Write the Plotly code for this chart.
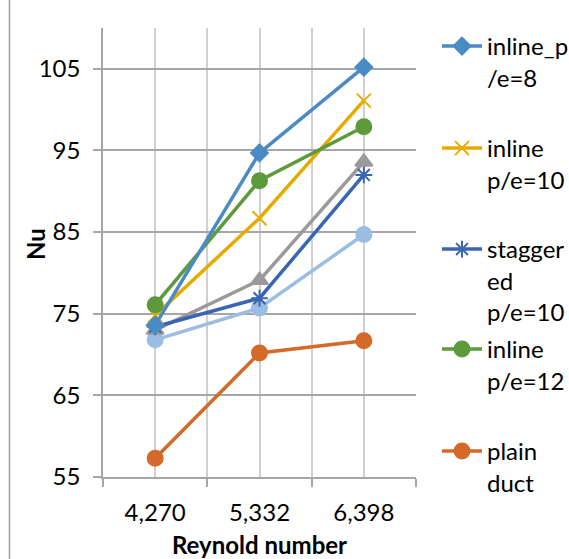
import plotly.graph_objects as go

categories = ["4,270", "5,332", "6,398"]
series_names = ["inline_p<br>/e=8", "inline<br>p/e=10", "stagger<br>ed<br>p/e=10",
                "inline<br>p/e=12", "plain<br>duct", "series6", "series7"]
inline_pe8 = [73.6, 94.7, 105.2]
inline_pe10 = [74.8, 86.7, 101.1]
staggered_pe10 = [73.4, 76.9, 92.0]
inline_pe12 = [76.1, 91.3, 97.9]
plain_duct = [57.3, 70.2, 71.7]
series6 = [73.0, 79.1, 93.6]
series7 = [71.8, 75.7, 84.7]
y_ticks = [55, 65, 75, 85, 95, 105]

xi = list(range(len(categories)))

W, H = 569, 559
L, R, T, B = 103, 153, 28, 82
PW = W - L - R
PH = H - T - B

styles = [
    dict(color="#4A8AC5", symbol="diamond", size=13, legend="legend", ly=45),
    dict(color="#E5AC00", symbol="x-thin", size=14, legend="legend2", ly=147),
    dict(color="#3A65B3", symbol="asterisk", size=14, legend="legend3", ly=248),
    dict(color="#5D9A3C", symbol="circle", size=15, legend="legend4", ly=348),
    dict(color="#D4692A", symbol="circle", size=15, legend="legend5", ly=450),
    dict(color="#9A9A9A", symbol="triangle-up", size=15, legend=None, ly=None),
    dict(color="#99BDE3", symbol="circle", size=15, legend=None, ly=None),
]
data = [inline_pe8, inline_pe10, staggered_pe10, inline_pe12, plain_duct, series6, series7]

fig = go.Figure()
for i in [6, 4, 5, 2, 1, 3, 0]:
    s = styles[i]
    kw = {}
    if s["legend"]:
        kw["legend"] = s["legend"]
    fig.add_trace(go.Scatter(
        x=xi, y=data[i], name=series_names[i], mode="lines+markers",
        line=dict(color=s["color"], width=3.5),
        marker=dict(color=s["color"], symbol=s["symbol"], size=s["size"],
                    line=dict(color=s["color"], width=2)),
        showlegend=bool(s["legend"]), **kw,
    ))

FS = 24
legend_layout = {}
for s in styles:
    if not s["legend"]:
        continue
    top_px = s["ly"] - 21
    legend_layout[s["legend"]] = dict(
        x=(437 - L) / PW, y=1 - (top_px - T) / PH,
        xanchor="left", yanchor="top", valign="top",
        font=dict(size=FS), itemwidth=40,
        bgcolor="rgba(0,0,0,0)",
    )

fig.update_layout(
    width=W, height=H,
    margin=dict(l=L, r=R, t=T, b=B, autoexpand=False),
    paper_bgcolor="white", plot_bgcolor="white",
    font=dict(family="Lato, 'Open Sans', sans-serif", size=FS, color="#000000"),
    xaxis=dict(
        range=[-0.5, 2.5], tickvals=xi, ticktext=categories,
        showgrid=True, gridcolor="#D0D0D0", gridwidth=1.5,
        ticks="", showline=True, linecolor="#A6A6A6", linewidth=1.5,
        ticklabelstandoff=13,
        minor=dict(tickvals=[-0.5, 0.5, 1.5, 2.5], showgrid=True,
                   gridcolor="#D0D0D0", gridwidth=1.5,
                   ticks="outside", ticklen=8, tickcolor="#A6A6A6", tickwidth=1.5),
        zeroline=False,
        title=dict(text="<b>Reynold number</b>", font=dict(size=FS), standoff=17),
        tickfont=dict(size=FS),
    ),
    yaxis=dict(
        range=[55, 110], tickvals=y_ticks,
        showgrid=True, gridcolor="#A6A6A6", gridwidth=1.5,
        ticks="outside", ticklen=8, tickcolor="#A6A6A6", tickwidth=1.5,
        showline=True, linecolor="#A6A6A6", linewidth=1.5,
        ticklabelstandoff=8,
        zeroline=False,
        tickfont=dict(size=FS),
    ),
    annotations=[dict(text="<b>Nu</b>", textangle=-90, xref="paper", yref="paper",
                      x=(35 - L) / PW, y=1 - (244 - T) / PH,
                      xanchor="center", yanchor="middle", showarrow=False,
                      font=dict(size=FS))],
    shapes=[dict(type="line", xref="paper", yref="paper",
                 x0=(9.5 - L) / PW, x1=(9.5 - L) / PW,
                 y0=-B / PH, y1=1 + T / PH,
                 line=dict(color="#A0A0A0", width=1.5))],
    **legend_layout,
)

fig.write_html("out.html", config={"displayModeBar": False},
               post_script="document.body.style.margin='0';document.body.style.overflow='hidden';")
